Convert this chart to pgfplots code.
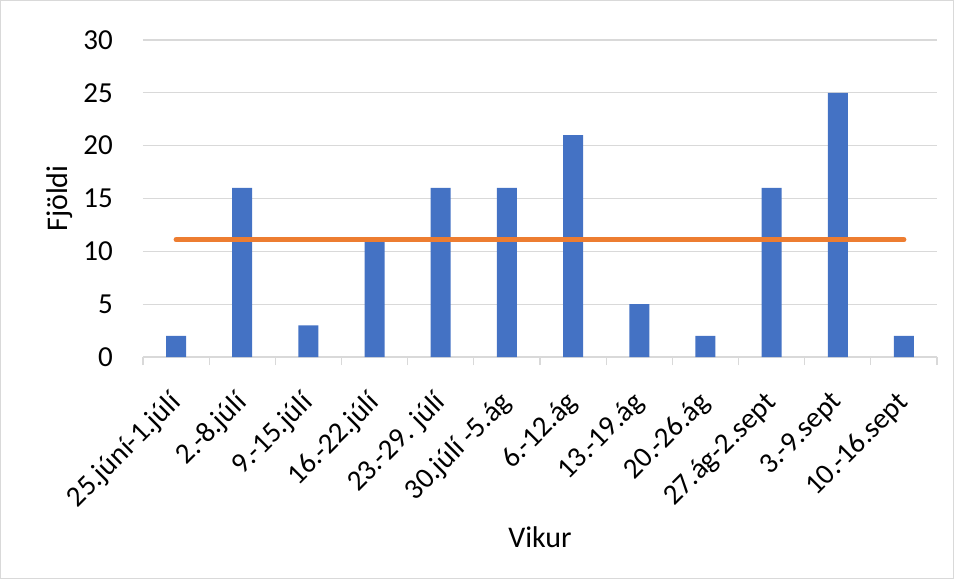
\documentclass[border=0pt]{standalone}
\usepackage{fontspec}
\setmainfont{Carlito}
\usepackage{pgfplots}
\pgfplotsset{compat=1.18}
\definecolor{barblue}{HTML}{4472C4}
\definecolor{avgorange}{HTML}{ED7D31}
\definecolor{gridgray}{HTML}{D9D9D9}
\begin{document}
\begin{tikzpicture}
\useasboundingbox (-143pt,-222pt) rectangle (811pt,357pt);
\draw[gridgray, line width=0.8pt] (-142.5pt,-221.5pt) rectangle (810.5pt,356.5pt);
\begin{axis}[
  scale only axis,
  width=794pt, height=317pt,
  at={(0,0)}, anchor=south west,
  xmin=-0.5, xmax=11.5,
  ymin=0, ymax=30,
  ytick={0,5,...,30},
  xtick={0,...,11},
  xticklabels={25.júní-1.júlí,2.-8.júlí,9.-15.júlí,16.-22.júlí,23.-29. júlí,30.júlí -5.ág,6.-12.ág,13.-19.ág,20.-26.ág,27.ág-2.sept,3.-9.sept,10.-16.sept},
  minor xtick={-0.5,0.5,...,11.5},
  major tick length=0pt,
  minor tick length=8pt,
  tick align=outside,
  tick pos=lower,
  minor tick style={gridgray, line width=1.3pt},
  ymajorgrids,
  major grid style={gridgray, line width=1.3pt},
  axis x line*=bottom,
  axis y line*=left,
  x axis line style={draw=gridgray, line width=1.3pt, -},
  y axis line style={draw=none},
  /pgf/number format/assume math mode=true,
  tick label style={font=\fontsize{29}{32}\selectfont, black},
  yticklabel style={anchor=east, inner sep=0pt, xshift=-30pt},
  xticklabel style={font=\fontsize{29}{32}\selectfont, inner sep=0pt, rotate=45, anchor=north east, xshift=-29pt, yshift=-17pt},
  clip=false,
]
\addplot[ybar, bar width=20pt, fill=barblue, draw=none, bar shift=0pt] coordinates {
 (0,2) (1,16) (2,3) (3,11) (4,16) (5,16) (6,21) (7,5) (8,2) (9,16) (10,25) (11,2)
};
\addplot[avgorange, line width=5pt, line cap=round, mark=none] coordinates {
 (0,11.1) (1,11.1) (2,11.1) (3,11.1) (4,11.1) (5,11.1) (6,11.1) (7,11.1) (8,11.1) (9,11.1) (10,11.1) (11,11.1)
};
\node[rotate=90, anchor=center, font=\fontsize{30}{33}\selectfont] at (axis description cs:-0.1045,0.5) {Fjöldi};
\node[anchor=center, font=\fontsize{30}{33}\selectfont] at (axis description cs:0.5,-0.568) {Vikur};
\end{axis}
\end{tikzpicture}
\end{document}
